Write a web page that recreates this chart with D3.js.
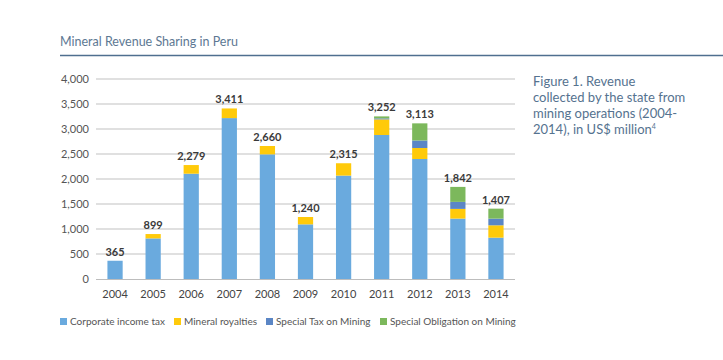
<!DOCTYPE html>
<html><head><meta charset="utf-8">
<script src="https://cdn.jsdelivr.net/npm/d3@7"></script>
<style>
body{margin:0;background:#fff;}
svg{display:block;font-family:Lato,"Open Sans",sans-serif;}
</style></head>
<body><svg id="chart" width="723" height="360"></svg>
<script>
const years = ["2004","2005","2006","2007","2008","2009","2010","2011","2012","2013","2014"];
const corporateIncomeTax = [365, 812, 2106, 3218, 2493, 1093, 2068, 2880, 2400, 1208, 827];
const mineralRoyalties   = [0, 87, 173, 193, 167, 147, 247, 312, 220, 194, 247];
const specialTaxMining   = [0, 0, 0, 0, 0, 0, 0, 20, 150, 140, 133];
const specialObligation  = [0, 0, 0, 0, 0, 0, 0, 40, 343, 300, 200];
const totals = [365, 899, 2279, 3411, 2660, 1240, 2315, 3252, 3113, 1842, 1407];
const yTicks = [0,500,1000,1500,2000,2500,3000,3500,4000];
const seriesNames = ["Corporate income tax","Mineral royalties","Special Tax on Mining","Special Obligation on Mining"];
const colors = ["#6aaade","#ffca0a","#5b86c5","#7cb85c"];

const svg = d3.select("#chart");
const fmt = d3.format(",");

// Title
svg.append("text").attr("x",60).attr("y",46).attr("font-size",12.5).attr("fill","#5d7893")
  .text("Mineral Revenue Sharing in Peru");
svg.append("line").attr("x1",60).attr("x2",723).attr("y1",55.5).attr("y2",55.5)
  .attr("stroke","#4f6f8f").attr("stroke-width",1.3);

const x = d3.scaleBand().domain(years).range([96,515]).paddingInner(0.6).paddingOuter(0.3);
const y = d3.scaleLinear().domain([0,4000]).range([279,79]);

// gridlines
svg.append("g").selectAll("line").data(yTicks.filter(d=>d>0)).join("line")
  .attr("x1",96).attr("x2",515).attr("y1",d=>y(d)).attr("y2",d=>y(d))
  .attr("stroke","#d6d6d6").attr("stroke-width",1.5);

// y axis labels
const yAxis = d3.axisLeft(y).tickValues(yTicks).tickFormat(fmt).tickSize(0).tickPadding(7);
const gy = svg.append("g").attr("transform","translate(96,0)").call(yAxis);
gy.select(".domain").remove();
gy.selectAll("text").attr("font-size",11).attr("fill","#555").attr("font-family","Lato,sans-serif");

// stacked data
const rows = years.map((yr,i)=>({year:yr, s0:corporateIncomeTax[i], s1:mineralRoyalties[i], s2:specialTaxMining[i], s3:specialObligation[i]}));
const stack = d3.stack().keys(["s0","s1","s2","s3"])(rows);

svg.append("g").selectAll("g").data(stack).join("g").attr("fill",(d,i)=>colors[i])
  .selectAll("rect").data(d=>d).join("rect")
  .attr("x",d=>x(d.data.year)).attr("width",x.bandwidth())
  .attr("y",d=>y(d[1])).attr("height",d=>Math.max(0,y(d[0])-y(d[1])));

// baseline
svg.append("line").attr("x1",96).attr("x2",515).attr("y1",279.5).attr("y2",279.5)
  .attr("stroke","#bdbdbd").attr("stroke-width",1.2);

// x axis
const xAxis = d3.axisBottom(x).tickSize(0).tickPadding(10);
const gx = svg.append("g").attr("transform","translate(0,280)").call(xAxis);
gx.select(".domain").remove();
gx.selectAll("text").attr("font-size",11).attr("fill","#444").attr("font-family","Lato,sans-serif");

// totals labels
svg.append("g").selectAll("text").data(years).join("text")
  .attr("x",d=>x(d)+x.bandwidth()/2).attr("y",(d,i)=>y(totals[i])-5)
  .attr("text-anchor","middle").attr("font-size",11).attr("font-weight","bold").attr("fill","#3a3a3a")
  .text((d,i)=>fmt(totals[i]));

// Figure caption
const cap = svg.append("text").attr("x",533).attr("font-size",13).attr("fill","#55728f");
const capLines = ["Figure 1. Revenue","collected by the state from","mining operations (2004-","2014), in US$ million"];
capLines.forEach((t,i)=>{
  const ts = cap.append("tspan").attr("x",533).attr("y",86+i*16).text(t);
  if(i===3){ cap.append("tspan").attr("font-size",7).attr("dy",-5).text("4"); }
});

// legend
const legX = [60,174,266,380];
const lg = svg.append("g").selectAll("g").data(seriesNames).join("g")
  .attr("transform",(d,i)=>`translate(${legX[i]},318)`);
lg.append("rect").attr("width",7).attr("height",7).attr("y",0).attr("fill",(d,i)=>colors[i]);
lg.append("text").attr("x",10).attr("y",7).attr("font-size",10).attr("fill","#555").text(d=>d);
</script></body></html>
